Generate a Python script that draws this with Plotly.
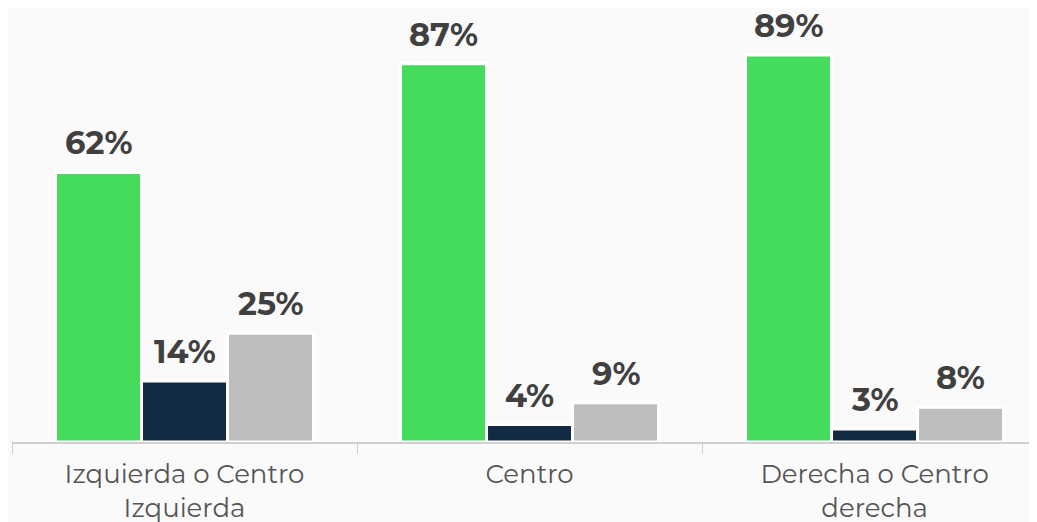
import plotly.graph_objects as go

categories = ['Izquierda o Centro<br>Izquierda', 'Centro', 'Derecha o Centro<br>derecha']
series_names = ['Serie 1', 'Serie 2', 'Serie 3']
series_values = [
    [62, 87, 89],
    [14, 4, 3],
    [25, 9, 8],
]
colors = ['#45DB5B', '#132A43', '#BEBEBE']

fig = go.Figure()

for name, vals, col in zip(series_names, series_values, colors):
    fig.add_trace(go.Bar(
        name=name,
        x=categories,
        y=vals,
        marker=dict(color=col, line=dict(color='white', width=3)),
        hoverinfo='skip',
    ))

# value labels above each bar
bar_px = 86
for i, vals in enumerate(series_values):
    for cat, v in zip(categories, vals):
        fig.add_annotation(
            x=cat, y=v, xref='x', yref='y',
            text=f'<b>{v}%</b>',
            showarrow=False,
            xshift=(i - 1) * bar_px,
            yanchor='bottom', yshift=8,
            font=dict(family='Montserrat, Open Sans, sans-serif', size=32, color='#404040'),
        )

fig.update_layout(
    width=1037, height=522,
    margin=dict(l=4, r=0, t=0, b=88),
    barmode='group',
    bargap=0.252,
    bargroupgap=0,
    showlegend=False,
    paper_bgcolor='#fafafa',
    plot_bgcolor='rgba(0,0,0,0)',
    font=dict(family='Montserrat, Open Sans, sans-serif'),
)

fig.update_xaxes(
    range=[-0.5, 2.494],
    showline=True, linecolor='#d0d0d0', linewidth=1.5,
    ticks='outside', tickson='boundaries', ticklen=10, tickcolor='#d0d0d0',
    tickfont=dict(size=26, color='#555555'),
    ticklabelstandoff=8,
    showgrid=False,
)
fig.update_yaxes(range=[0, 99.8], visible=False, showgrid=False)

fig.write_html('out.html')
